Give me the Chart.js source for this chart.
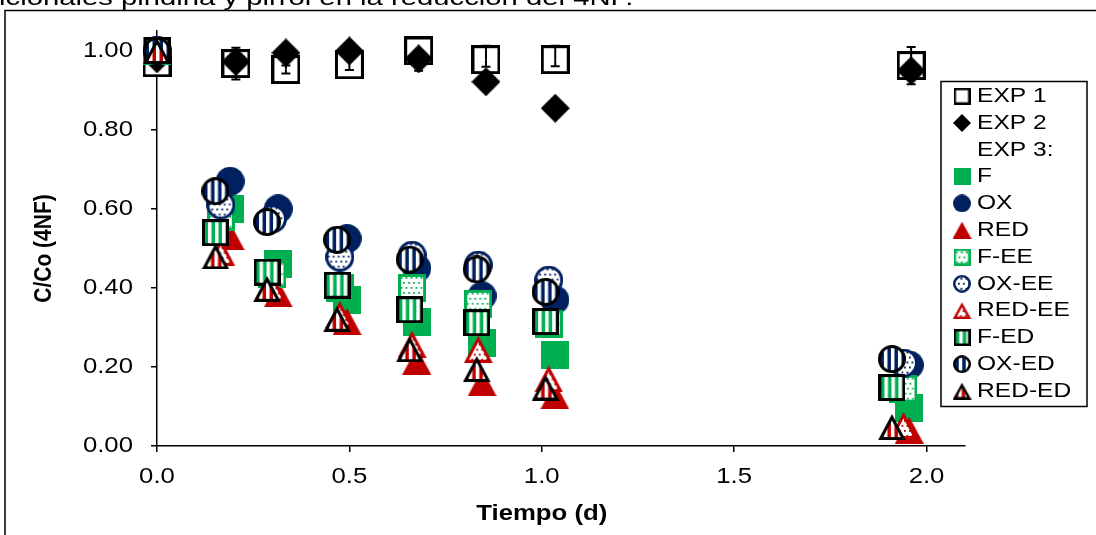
<!DOCTYPE html>
<html>
<head>
<meta charset="utf-8">
<script src="https://cdn.jsdelivr.net/npm/chart.js@4.4.1/dist/chart.umd.min.js"></script>
<style>
  html, body { margin: 0; padding: 0; background: #fff; overflow: hidden; }
  #wrap { position: relative; width: 1096px; height: 535px; }
  #chart { position: absolute; left: 0; top: 0; }
  #above {
    position: absolute; left: -1px; top: -15px;
    font: 22px Arial, "Liberation Sans", sans-serif; line-height: 25px;
    white-space: nowrap; color: #000;
    transform: scaleX(1.33); transform-origin: 0 0;
  }
</style>
</head>
<body>
<div id="wrap">
  <canvas id="chart" width="1096" height="535"></canvas>
  <div id="above">icionales piridina y pirrol en la reducción del 4NF.</div>
</div>
<script>
// --- datos ---
const xTicks = [0, 0.5, 1.0, 1.5, 2.0];
const yTicks = [0, 0.2, 0.4, 0.6, 0.8, 1.0];

// tiempos (d): EXP 1/2 y EXP 3 (ED a la izquierda, EE al medio, sin sufijo a la derecha)
const tExp = [0, 0.205, 0.335, 0.5, 0.68, 0.855, 1.035, 1.96];
const tED  = [0, 0.152, 0.286, 0.468, 0.657, 0.831, 1.01, 1.91];
const tEE  = [0, 0.166, 0.30, 0.475, 0.663, 0.835, 1.018, 1.94];
const tPl  = [0, 0.19, 0.315, 0.494, 0.675, 0.845, 1.034, 1.955];

const exp1 = [0.97, 0.968, 0.953, 0.965, 1.00, 0.978, 0.978, 0.963];
const exp2 = [0.98, 0.973, 0.995, 1.00, 0.98, 0.922, 0.855, 0.95];
const exp1ErrUp   = [0, 0.04, 0.01, 0.013, 0, 0.035, 0.035, 0.047];
const exp1ErrDown = [0, 0.04, 0.01, 0.013, 0, 0.018, 0.017, 0.047];
const exp2ErrUp   = [0, 0, 0, 0, 0, 0, 0, 0];
const exp2ErrDown = [0, 0, 0, 0, 0.03, 0, 0, 0];

const fPl   = [1.00, 0.60, 0.46, 0.37, 0.315, 0.26, 0.23, 0.095];
const oxPl  = [1.00, 0.67, 0.60, 0.525, 0.45, 0.38, 0.37, 0.205];
const redPl = [1.00, 0.53, 0.385, 0.315, 0.215, 0.16, 0.127, 0.04];
const fEE   = [1.00, 0.58, 0.435, 0.40, 0.40, 0.36, 0.31, 0.145];
const oxEE  = [1.00, 0.61, 0.575, 0.478, 0.483, 0.458, 0.42, 0.21];
const redEE = [1.00, 0.49, 0.40, 0.333, 0.258, 0.245, 0.17, 0.052];
const fED   = [1.00, 0.54, 0.44, 0.407, 0.345, 0.312, 0.315, 0.148];
const oxED  = [1.00, 0.645, 0.567, 0.522, 0.472, 0.447, 0.39, 0.22];
const redED = [1.00, 0.48, 0.398, 0.322, 0.245, 0.195, 0.148, 0.048];

const GREEN = '#00B050', NAVY = '#002060', RED = '#C00000';
const TEXT_STRETCH = 1.17;

// marcador dibujado en un canvas (relleno, punteado o rayado)
function marker(shape, w, h, fill, opt = {}) {
  const c = document.createElement('canvas');
  c.width = w; c.height = h;
  const g = c.getContext('2d');
  const lw = opt.lw || 0, i = lw / 2;
  const path = () => {
    g.beginPath();
    if (shape === 'square') g.rect(i, i, w - lw, h - lw);
    else if (shape === 'circle') g.arc(w / 2, h / 2, w / 2 - i, 0, Math.PI * 2);
    else if (shape === 'diamond') { g.moveTo(w / 2, 0); g.lineTo(w, h / 2); g.lineTo(w / 2, h); g.lineTo(0, h / 2); g.closePath(); }
    else if (shape === 'triangle') { g.moveTo(w / 2, lw * 1.1); g.lineTo(w - lw * 0.9, h - i); g.lineTo(lw * 0.9, h - i); g.closePath(); }
  };
  if (shape === 'none') return c;
  path();
  g.fillStyle = opt.pattern ? '#fff' : fill;
  g.fill();
  if (opt.pattern) {
    g.save(); path(); g.clip();
    g.fillStyle = fill;
    if (opt.pattern === 'stripes') {
      for (let x = i + 1; x < w; x += 7) g.fillRect(x, 0, 3.5, h);
    } else {
      for (let r = 0, y = 3; y < h; y += 5, r++)
        for (let x = r % 2 ? 5 : 2.5; x < w; x += 5) g.fillRect(x, y, 1.8, 1.8);
    }
    g.restore();
  }
  if (lw) { path(); g.lineWidth = lw; g.strokeStyle = opt.stroke; g.stroke(); }
  return c;
}

const series = [
  { label: 'EXP 1', t: tExp, v: exp1,
    big: marker('square', 29, 29, '#fff', { lw: 3, stroke: '#000' }), small: marker('square', 17, 17, '#fff', { lw: 2.5, stroke: '#000' }) },
  { label: 'EXP 2', t: tExp, v: exp2,
    big: marker('diamond', 29, 29, '#000'), small: marker('diamond', 18, 18, '#000') },
  { label: 'EXP 3:', t: [], v: [],
    big: marker('none', 1, 1), small: marker('none', 1, 1) },
  { label: 'F', t: tPl, v: fPl,
    big: marker('square', 28, 28, GREEN), small: marker('square', 17, 17, GREEN) },
  { label: 'OX', t: tPl, v: oxPl,
    big: marker('circle', 29, 29, NAVY), small: marker('circle', 18, 18, NAVY) },
  { label: 'RED', t: tPl, v: redPl,
    big: marker('triangle', 29, 27, RED), small: marker('triangle', 19, 17, RED) },
  { label: 'F-EE', t: tEE, v: fEE,
    big: marker('square', 28, 28, GREEN, { lw: 3, stroke: GREEN, pattern: 'dots' }), small: marker('square', 17, 17, GREEN, { lw: 2.5, stroke: GREEN, pattern: 'dots' }) },
  { label: 'OX-EE', t: tEE, v: oxEE,
    big: marker('circle', 29, 29, NAVY, { lw: 3, stroke: NAVY, pattern: 'dots' }), small: marker('circle', 18, 18, NAVY, { lw: 2.5, stroke: NAVY, pattern: 'dots' }) },
  { label: 'RED-EE', t: tEE, v: redEE,
    big: marker('triangle', 29, 27, RED, { lw: 3, stroke: RED, pattern: 'dots' }), small: marker('triangle', 19, 17, RED, { lw: 2.5, stroke: RED, pattern: 'dots' }) },
  { label: 'F-ED', t: tED, v: fED,
    big: marker('square', 27, 27, GREEN, { lw: 3, stroke: '#000', pattern: 'stripes' }), small: marker('square', 17, 17, GREEN, { lw: 2.5, stroke: '#000', pattern: 'stripes' }) },
  { label: 'OX-ED', t: tED, v: oxED,
    big: marker('circle', 28, 28, NAVY, { lw: 3, stroke: '#000', pattern: 'stripes' }), small: marker('circle', 18, 18, NAVY, { lw: 2.5, stroke: '#000', pattern: 'stripes' }) },
  { label: 'RED-ED', t: tED, v: redED,
    big: marker('triangle', 28, 26, RED, { lw: 3, stroke: '#000', pattern: 'stripes' }), small: marker('triangle', 19, 17, RED, { lw: 2.5, stroke: '#000', pattern: 'stripes' }) }
];

const errorBars = [
  { ds: 0, up: exp1ErrUp, down: exp1ErrDown },
  { ds: 1, up: exp2ErrUp, down: exp2ErrDown }
];

// el texto de la figura original esta ensanchado horizontalmente
const ctx = document.getElementById('chart').getContext('2d');
const rawFill = ctx.fillText.bind(ctx);
ctx.fillText = (text, x, y) => {
  ctx.save();
  ctx.translate(x, y);
  ctx.scale(TEXT_STRETCH, 1);
  rawFill(text, 0, 0);
  ctx.restore();
};

const extras = {
  id: 'extras',
  afterLayout(chart) {
    // leyenda superpuesta al area del grafico, arriba a la derecha
    const lg = chart.legend;
    lg.left = 951.7; lg.top = 79.9;
    lg.right = 1095; lg.bottom = 440;
    lg.width = lg.right - lg.left; lg.height = lg.bottom - lg.top;
  },
  beforeDraw(chart) {
    const c = chart.ctx;
    c.save();
    c.strokeStyle = '#000'; c.lineWidth = 1.5;
    c.beginPath();
    c.moveTo(5, 535); c.lineTo(5, 10.5); c.lineTo(1096, 10.5);
    c.stroke();
    c.restore();
  },
  afterDatasetDraw(chart, args) {
    const eb = errorBars.find(e => e.ds === args.index);
    if (!eb) return;
    const { ctx: c, scales: { x, y } } = chart;
    const data = chart.data.datasets[args.index].data;
    c.save();
    c.strokeStyle = '#000'; c.lineWidth = 2;
    data.forEach((p, k) => {
      const px = x.getPixelForValue(p.x);
      const py0 = y.getPixelForValue(p.y);
      [[eb.up[k], 1], [eb.down[k], -1]].forEach(([e, s]) => {
        if (!e) return;
        const py = y.getPixelForValue(p.y + s * e);
        c.beginPath();
        c.moveTo(px, py0); c.lineTo(px, py);
        c.moveTo(px - 4.5, py); c.lineTo(px + 4.5, py);
        c.stroke();
      });
    });
    c.restore();
  },
  afterDraw(chart) {
    const { ctx: c, scales: { x, y } } = chart;
    c.save();
    // marco de la leyenda
    c.strokeStyle = '#000'; c.lineWidth = 1.5;
    c.strokeRect(941, 81.5, 146, 325);
    // titulos de ejes
    c.fillStyle = '#000';
    c.font = 'bold 22px Arial, "Liberation Sans", sans-serif';
    c.textAlign = 'center';
    c.textBaseline = 'alphabetic';
    c.fillText('Tiempo (d)', x.getPixelForValue(1.0), 520);
    c.translate(44, y.getPixelForValue(0.5));
    c.rotate(-Math.PI / 2);
    c.scale(1, TEXT_STRETCH);
    c.font = 'bold 21px Arial, "Liberation Sans", sans-serif';
    c.textBaseline = 'middle';
    rawFill('C/Co (4NF)', 0, 0);
    c.restore();
  }
};

Chart.defaults.font.family = 'Arial, "Liberation Sans", sans-serif';
Chart.defaults.color = '#000';

new Chart(ctx, {
  type: 'scatter',
  data: {
    datasets: series.map((s, i) => ({
      label: s.label,
      data: s.t.map((t, k) => ({ x: t, y: s.v[k] })),
      pointStyle: s.big,
      pointRadius: 14,
      showLine: false,
      clip: false,
      order: series.length - i
    }))
  },
  options: {
    responsive: false,
    animation: false,
    events: [],
    devicePixelRatio: 1,
    layout: { padding: { left: 0, right: 131, top: 26, bottom: 0 } },
    scales: {
      x: {
        type: 'linear', min: 0, max: 2.1, z: 1,
        afterFit: s => { s.height = 89; },
        afterBuildTicks: s => { s.ticks = xTicks.map(v => ({ value: v })); },
        ticks: { callback: v => v.toFixed(1), font: { size: 22 }, color: '#000', padding: 12, maxRotation: 0 },
        grid: { display: true, drawOnChartArea: false, drawTicks: true, tickLength: 6, color: '#000', lineWidth: 1.5 },
        border: { display: true, color: '#000', width: 1.5 }
      },
      y: {
        type: 'linear', min: 0, max: 1.05, z: 1,
        afterFit: s => { s.width = 157; },
        afterBuildTicks: s => { s.ticks = yTicks.map(v => ({ value: v })); },
        ticks: { callback: v => v.toFixed(2), font: { size: 22 }, color: '#000', padding: 18 },
        grid: { display: true, drawOnChartArea: false, drawTicks: true, tickLength: 6, color: '#000', lineWidth: 1.5 },
        border: { display: true, color: '#000', width: 1.5 }
      }
    },
    plugins: {
      tooltip: { enabled: false },
      legend: {
        position: 'chartArea',
        align: 'start',
        labels: {
          usePointStyle: true,
          pointStyleWidth: 9,
          padding: 5.8,
          color: '#000',
          font: { size: 21 },
          generateLabels: chart => chart.data.datasets.map((ds, i) => ({
            text: ds.label,
            pointStyle: series[i].small,
            fillStyle: '#000', strokeStyle: '#000', lineWidth: 0,
            fontColor: '#000', hidden: false, datasetIndex: i
          }))
        }
      }
    }
  },
  plugins: [extras]
});
</script>
</body>
</html>
